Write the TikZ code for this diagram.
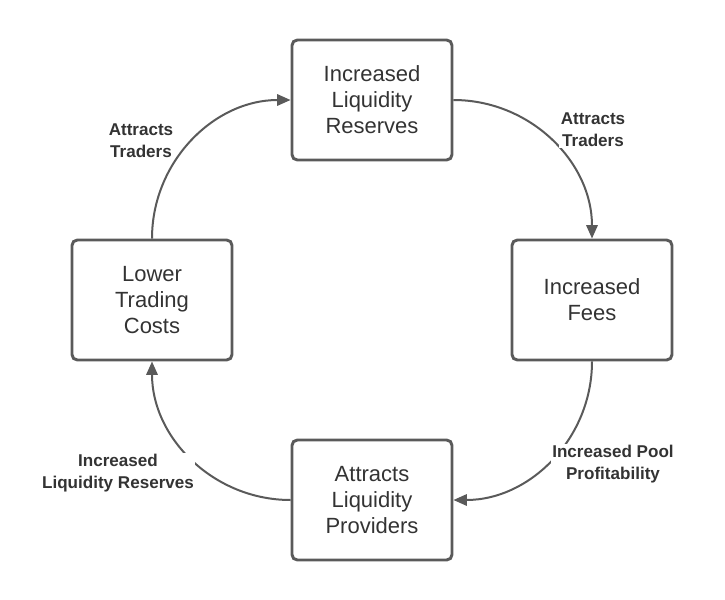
\documentclass[tikz,border=0pt]{standalone}
\usepackage{fontspec}
\setmainfont{Liberation Sans}
\usetikzlibrary{arrows.meta}
\begin{document}
\begin{tikzpicture}[x=0.75pt,y=-0.75pt,
  stagebox/.style={draw=boxline,line width=2.2pt,rounded corners=4pt,minimum width=120pt,
    minimum height=90pt,align=center,text=textgray,font=\fontsize{16.5}{19.5}\selectfont},
  flow/.style={draw=boxline,line width=1.5pt,-{Triangle[length=10pt,width=8.5pt]}},
  flowlabel/.style={fill=white,inner sep=1pt,align=center,text=textgray,
    font=\fontsize{12.8}{16.5}\selectfont\bfseries}]
  \definecolor{boxline}{HTML}{5A5A5A}
  \definecolor{textgray}{HTML}{333333}
  \useasboundingbox (0,0) rectangle (725,600);
  \node [stagebox] (reserves) at (372,100) {Increased\\Liquidity\\Reserves};
  \node [stagebox] (fees) at (592,300) {Increased\\Fees};
  \node [stagebox] (providers) at (372,500) {Attracts\\Liquidity\\Providers};
  \node [stagebox] (costs) at (152,300) {Lower\\Trading\\Costs};
  \draw [flow] (reserves.east) to [out=0,in=90] (fees.north);
  \draw [flow] (fees.south) to [out=-90,in=0] (providers.east);
  \draw [flow] (providers.west) to [out=180,in=-90] (costs.south);
  \draw [flow] (costs.north) to [out=90,in=180] (reserves.west);
  \node [flowlabel] at (593,130) {Attracts\\Traders};
  \node [flowlabel] at (141,141) {Attracts\\Traders};
  \node [flowlabel] at (613,464) {Increased Pool\\Profitability};
  \node [flowlabel] at (118,473) {Increased\\Liquidity Reserves};
\end{tikzpicture}
\end{document}
